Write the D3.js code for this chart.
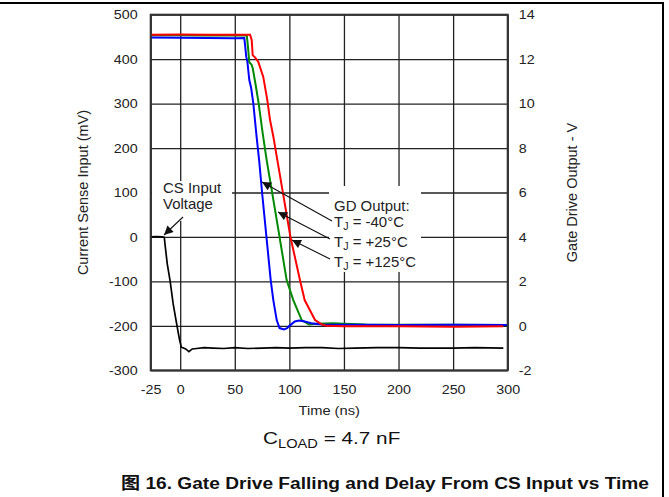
<!DOCTYPE html>
<html><head><meta charset="utf-8">
<script src="https://cdn.jsdelivr.net/npm/d3@7/dist/d3.min.js"></script>
<style>
body{margin:0;background:#fff;}
svg{display:block;font-family:"Liberation Sans",Arial,"Noto Sans CJK SC",sans-serif;}
</style></head>
<body>
<svg id="chart" width="669" height="497"></svg>
<script>
// ---------- data ----------
const xTicks = [-25, 0, 50, 100, 150, 200, 250, 300];
const yLeftTicks = [-300, -200, -100, 0, 100, 200, 300, 400, 500];
const yRightTicks = [-2, 0, 2, 4, 6, 8, 10, 12, 14];

// CS input voltage (mV, left axis)
const csTime = [-27,-20,-15,-13.5,-12.5,-11,-8.5,-6,-2.7,-0.5,1,3,5,8,11,15,22,30,40,50,62,75,88,100,115,130,145,160,180,200,220,250,270,296];
const csMv   = [0,1,0,-1,-25,-60,-100,-150,-200,-232,-248,-250,-252,-258,-252,-251,-249,-250,-251,-249,-251,-250,-249,-250,-249,-249,-251,-250,-249,-249,-250,-250,-249,-250];

// Gate drive output (V, right axis)
const blueTime = [-27,0,25,50,58.7,59.5,60.5,61.5,63.3,65,67,70,72.3,75,79,82.9,85.3,88.4,91,95,98,100,105,109,114,120,130,160,200,250,300];
const blueV    = [12.97,12.96,12.95,12.94,12.95,12.6,12.1,11.9,11.06,10.7,10.0,8.5,7.46,6.0,4.0,2.06,1.16,0.26,-0.1,-0.16,-0.1,0.0,0.2,0.24,0.2,0.12,0.06,0.05,0.04,0.05,0.04];

const greenTime = [-27,0,25,50,61,62,63.3,65.5,66.5,69.4,71.9,75.5,79.2,85.3,91,97.5,103.6,111.3,118,125,140,150,170,200,250,300];
const greenV    = [13.07,13.08,13.06,13.07,13.06,12.6,11.86,11.74,11.58,10.76,10.0,8.68,7.46,5.68,4.0,2.06,1.16,0.26,0.06,0.1,0.12,0.1,0.06,0.05,0.05,0.04];

const redTime = [-27,0,25,50,64,65.5,66.4,68.5,71.5,76.1,79.8,82.3,85.3,89,101,109.7,114,123.5,130,134,150,200,250,296];
const redV    = [13.1,13.11,13.1,13.1,13.1,12.86,12.18,12.08,11.88,11.2,10.16,9.26,8.52,7.46,4.0,2.06,1.16,0.26,0.06,0.0,-0.02,-0.02,-0.04,-0.02];

// ---------- layout ----------
const L = 150.7, R = 507.7, T = 14.7, B = 370.3;
const svg = d3.select("#chart");

const x = d3.scaleLinear().domain([-25, 0, 300]).range([L, 180.2, R]);
const yL = d3.scaleLinear().domain([-300, 500]).range([B, T]);
const yR = d3.scaleLinear().domain([-2, 14]).range([B, T]);

function stretch(sel, sx, origin) {
  sel.style("transform-box", "fill-box").style("transform-origin", origin)
     .style("transform", `scaleX(${sx})`);
}
const fmt = d => String(d);

// outer frame
svg.append("path").attr("d", "M0,3H663V497").attr("fill","none").attr("stroke","#000").attr("stroke-width",2);

// grid + axes
const gx = svg.append("g").attr("transform", `translate(0,${B})`)
  .call(d3.axisBottom(x).tickValues(xTicks).tickSize(-(B - T)).tickPadding(14).tickFormat(fmt));
const gy = svg.append("g").attr("transform", `translate(${L},0)`)
  .call(d3.axisLeft(yL).tickValues(yLeftTicks).tickSize(-(R - L)).tickPadding(13).tickFormat(fmt));
const gr = svg.append("g").attr("transform", `translate(${R},0)`)
  .call(d3.axisRight(yR).tickValues(yRightTicks).tickSize(0).tickPadding(11).tickFormat(fmt));
[gx, gy, gr].forEach(g => {
  g.select(".domain").remove();
  g.selectAll("line").attr("stroke", "#222").attr("stroke-width", 1.3);
  g.selectAll("text").attr("font-size", 13).attr("fill", "#222")
    .attr("font-family", "'Liberation Sans',Arial,sans-serif");
});
stretch(gx.selectAll("text"), 1.1, "center");
stretch(gy.selectAll("text"), 1.1, "right center");
stretch(gr.selectAll("text"), 1.1, "left center");

// white label backgrounds
svg.append("rect").attr("x",152).attr("y",181).attr("width",80).attr("height",40).attr("fill","#fff");
svg.append("rect").attr("x",329).attr("y",186).attr("width",92).attr("height",86).attr("fill","#fff");

// curves
svg.append("clipPath").attr("id","pc").append("rect")
  .attr("x",L).attr("y",T).attr("width",R-L).attr("height",B-T);
const plot = svg.append("g").attr("clip-path","url(#pc)");

const lineL = d3.line().x(d => x(d[0])).y(d => yL(d[1]));
const lineR = d3.line().x(d => x(d[0])).y(d => yR(d[1]));

plot.append("path").datum(csTime.map((t,i)=>[t,csMv[i]])).attr("d", lineL)
  .attr("fill","none").attr("stroke","#000").attr("stroke-width",1.7);
plot.append("path").datum(greenTime.map((t,i)=>[t,greenV[i]])).attr("d", lineR)
  .attr("fill","none").attr("stroke","#008a00").attr("stroke-width",2);
plot.append("path").datum(blueTime.map((t,i)=>[t,blueV[i]])).attr("d", lineR)
  .attr("fill","none").attr("stroke","#0000ff").attr("stroke-width",2);
plot.append("path").datum(redTime.map((t,i)=>[t,redV[i]])).attr("d", lineR)
  .attr("fill","none").attr("stroke","#ff0000").attr("stroke-width",2);

// plot border
svg.append("rect").attr("x",L).attr("y",T).attr("width",R-L).attr("height",B-T)
  .attr("fill","none").attr("stroke","#333").attr("stroke-width",2);

// arrows
svg.append("defs").append("marker").attr("id","ah")
  .attr("viewBox","0 0 10 10").attr("refX",10).attr("refY",5)
  .attr("markerWidth",10).attr("markerHeight",9).attr("markerUnits","userSpaceOnUse")
  .attr("orient","auto")
  .append("path").attr("d","M0,0L10,5L0,10Z").attr("fill","#111");
const arrows = [[183,217,164,235],[332,221,262,182],[330,239,278,212],[330,259,292,240]];
arrows.forEach(a => svg.append("line").attr("x1",a[0]).attr("y1",a[1]).attr("x2",a[2]).attr("y2",a[3])
  .attr("stroke","#111").attr("stroke-width",1.1).attr("marker-end","url(#ah)"));

// annotation text
const ann = svg.append("g").attr("font-size",14).attr("fill","#222");
ann.append("text").attr("x",163).attr("y",193).text("CS Input");
ann.append("text").attr("x",163).attr("y",209).text("Voltage");
ann.append("text").attr("x",334).attr("y",211).text("GD Output:");
[["-40°C",227],["+25°C",247],["+125°C",267]].forEach(([s,yy]) => {
  const t = ann.append("text").attr("x",334).attr("y",yy);
  t.append("tspan").text("T");
  t.append("tspan").attr("font-size",10).attr("dy",3).text("J");
  t.append("tspan").attr("dy",-3).text(" = " + s);
});
stretch(ann.selectAll("text"), 1.07, "left center");

// axis titles
svg.append("text").attr("transform",`translate(88,${(T+B)/2}) rotate(-90)`)
  .attr("text-anchor","middle").attr("font-size",14.5).attr("fill","#222").text("Current Sense Input (mV)");
svg.append("text").attr("transform",`translate(577,${(T+B)/2}) rotate(-90)`)
  .attr("text-anchor","middle").attr("font-size",14.5).attr("fill","#222").text("Gate Drive Output - V");
const tt = svg.append("text").attr("x",(L+R)/2).attr("y",415).attr("text-anchor","middle")
  .attr("font-size",13).attr("fill","#222").text("Time (ns)");
stretch(tt, 1.13, "center");

// C_LOAD
const cl = svg.append("text").attr("x",331.7).attr("y",444).attr("text-anchor","middle")
  .attr("font-size",17).attr("fill","#111");
cl.append("tspan").text("C");
cl.append("tspan").attr("font-size",12).attr("dy",4).text("LOAD");
cl.append("tspan").attr("dy",-4).text(" = 4.7 nF");
stretch(cl, 1.22, "center");

// caption
const cap = svg.append("text").attr("x",121).attr("y",489).attr("font-size",16.5).attr("font-weight","bold")
  .attr("fill","#111").text("图 16. Gate Drive Falling and Delay From CS Input vs Time");
stretch(cap, 1.16, "left center");
</script>
</body></html>
